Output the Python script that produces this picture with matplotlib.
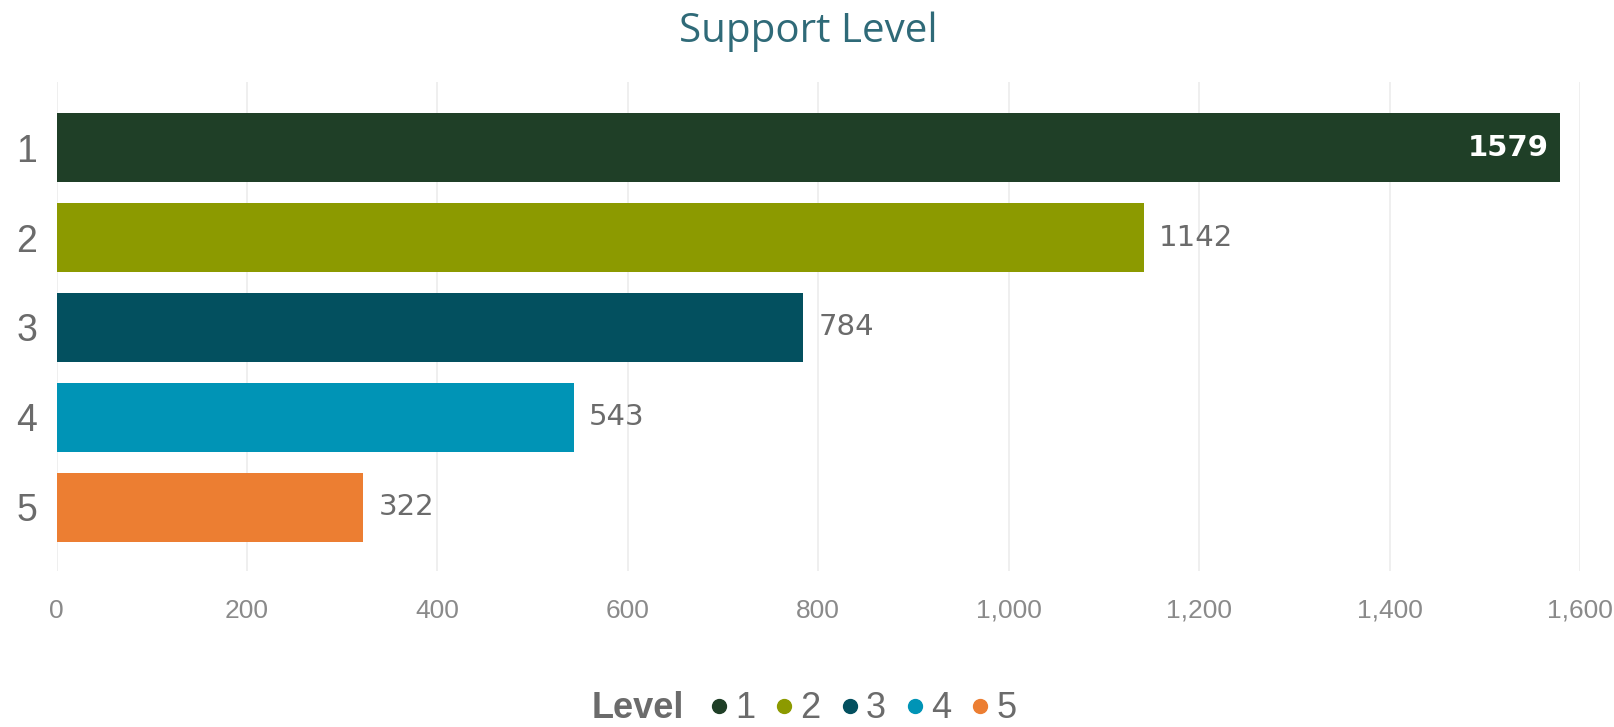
import matplotlib.pyplot as plt
from matplotlib.lines import Line2D
from matplotlib.ticker import FuncFormatter

levels = ["1", "2", "3", "4", "5"]
counts = [1579, 1142, 784, 543, 322]
colors = ["#1f3f27", "#8c9a00", "#03505f", "#0094b6", "#ec7e32"]

TITLE_COLOR = "#2f6a78"
LABEL_COLOR = "#6b6b6b"
TICK_COLOR = "#8a8a8a"

fig = plt.figure(figsize=(16.14, 7.27), dpi=100)
ax = fig.add_axes([56.6 / 1614, 1 - 571 / 727, (1580 - 56.6) / 1614, (571 - 82) / 727])

ypos = list(range(len(levels)))
bars = ax.barh(ypos, counts, height=0.77, color=colors, zorder=2)

ax.set_xlim(0, 1600)
ax.set_ylim(4.706, -0.728)
ax.set_xticks(range(0, 1601, 200))
ax.xaxis.set_major_formatter(FuncFormatter(lambda v, p: f"{int(v):,}"))
ax.set_yticks(ypos)
ax.set_yticklabels(levels)
ax.grid(axis="x", color="#ececec", linewidth=1.2, zorder=0)
for s in ax.spines.values():
    s.set_visible(False)
ax.tick_params(axis="x", length=0, pad=20, labelsize=19, labelcolor=TICK_COLOR)
ax.tick_params(axis="y", length=0, pad=14, labelsize=27, labelcolor=LABEL_COLOR)
for lbl in ax.get_xticklabels() + ax.get_yticklabels():
    lbl.set_fontfamily("Liberation Sans")

# value labels: the longest bar gets its label inside
for i, (b, v) in enumerate(zip(bars, counts)):
    if v == max(counts):
        ax.text(v - 12, i, str(v), ha="right", va="center", color="white",
                fontsize=21, fontweight="bold", fontfamily="DejaVu Sans")
    else:
        ax.text(v + 16, i, str(v), ha="left", va="center", color=LABEL_COLOR,
                fontsize=21, fontfamily="DejaVu Sans")

fig.text(808 / 1614, 1 - 32 / 727, "Support Level", ha="center", va="center",
         color=TITLE_COLOR, fontsize=29, fontfamily="Open Sans")

fig.text(592 / 1614, 1 - 709 / 727, "Level", ha="left", va="center",
         color=LABEL_COLOR, fontsize=26, fontweight="bold",
         fontfamily="Liberation Sans")
handles = [Line2D([], [], marker="o", linestyle="none", markersize=10,
                  markerfacecolor=c, markeredgecolor=c) for c in colors]
leg = fig.legend(handles, levels, ncol=5, frameon=False, loc="center left",
                 bbox_to_anchor=(710 / 1614, 1 - 709 / 727),
                 prop={"family": "Liberation Sans", "size": 26},
                 handlelength=0.5, handletextpad=0.2, columnspacing=0.55,
                 labelcolor=LABEL_COLOR, borderpad=0, borderaxespad=0)

fig.savefig("out.png", dpi=100, facecolor="white")
